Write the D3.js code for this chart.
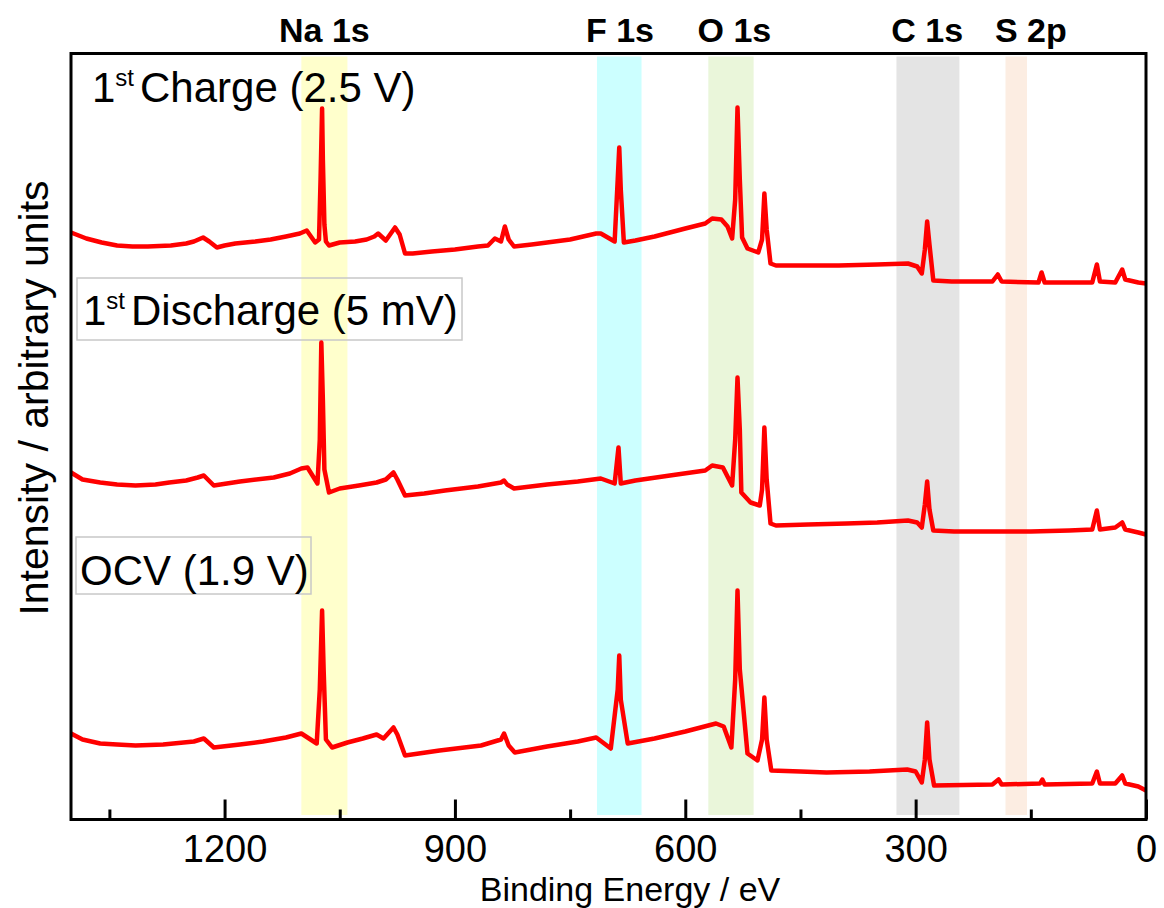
<!DOCTYPE html>
<html>
<head>
<meta charset="utf-8">
<script src="https://cdn.jsdelivr.net/npm/d3@7"></script>
<style>
  html, body { margin: 0; padding: 0; background: #fff; }
  svg { display: block; }
  text { font-family: Arial, "Liberation Sans", sans-serif; fill: #000; }
</style>
</head>
<body>
<svg id="chart" width="1164" height="908"></svg>
<script>
// XPS survey spectra: [binding energy (eV), intensity (a.u., stacked)]
const charge = [
  [1400, 587], [1390, 584], [1380, 581], [1360, 577], [1340, 574], [1320, 573],
  [1300, 573], [1270, 574], [1250, 576], [1240, 578], [1228, 582], [1220, 578],
  [1210, 572], [1200, 574], [1186, 576], [1160, 578], [1140, 580], [1120, 583],
  [1102, 586], [1093, 589], [1082, 577], [1077, 580], [1075, 640], [1073, 711],
  [1072, 660], [1070, 595], [1068, 578], [1064, 574], [1050, 577], [1030, 578],
  [1015, 580], [1005, 583], [1000, 586], [990, 579], [978, 592], [972, 585],
  [965, 566], [955, 566], [930, 568], [900, 570], [870, 573], [857, 574],
  [848, 581], [840, 578], [835, 593], [830, 580], [823, 573], [800, 575],
  [780, 577], [750, 580], [716, 586], [710, 586], [692, 578], [688, 640],
  [686, 672], [684, 630], [680, 577], [665, 579], [640, 583], [620, 587],
  [600, 591], [574, 596], [565, 601], [553, 600], [545, 593], [539, 581],
  [535, 620], [532, 712], [529, 640], [526, 582], [519, 571], [505, 567],
  [500, 580], [497, 626], [494, 590], [489, 556], [482, 554], [450, 554],
  [400, 554], [350, 555], [310, 556], [298, 553], [292, 546], [288, 570],
  [285, 598], [282, 575], [277, 539], [253, 538], [200, 538], [193, 545],
  [188, 538], [140, 537], [136, 547], [132, 537], [70, 537], [64, 555],
  [60, 538], [40, 537], [31, 550], [27, 540], [10, 537], [0, 536]
];

const discharge = [
  [1400, 347], [1385, 340], [1362, 337], [1340, 335], [1316, 334], [1290, 335],
  [1272, 337], [1250, 339], [1235, 342], [1227, 344], [1214, 334], [1180, 338],
  [1136, 342], [1115, 346], [1100, 351], [1092, 352], [1079, 336], [1076, 380],
  [1074, 477], [1072, 420], [1070, 350], [1064, 327], [1050, 331], [1025, 334],
  [1002, 337], [990, 340], [980, 347], [975, 340], [965, 324], [940, 326],
  [913, 329], [870, 333], [840, 337], [836, 339], [832, 335], [823, 331],
  [780, 335], [740, 338], [710, 341], [692, 336], [687, 372], [684, 336],
  [665, 339], [620, 344], [574, 349], [565, 354], [551, 352], [539, 334],
  [535, 380], [532, 442], [529, 390], [527, 327], [515, 317], [503, 314],
  [500, 330], [497, 392], [494, 340], [489, 296], [482, 294], [440, 295],
  [390, 296], [350, 297], [310, 299], [298, 297], [292, 292], [288, 315],
  [285, 338], [282, 310], [277, 289], [250, 288], [200, 288], [150, 288],
  [100, 289], [70, 290], [64, 309], [60, 290], [40, 292], [31, 297],
  [27, 290], [10, 287], [0, 285]
];

const ocv = [
  [1400, 86], [1385, 80], [1362, 76], [1340, 75], [1316, 74], [1280, 75],
  [1240, 78], [1227, 81], [1214, 72], [1180, 75], [1150, 78], [1120, 82],
  [1100, 86], [1080, 76], [1076, 130], [1073, 209], [1071, 150], [1068, 80],
  [1060, 72], [1040, 77], [1020, 81], [1002, 85], [993, 81], [980, 92],
  [975, 85], [965, 64], [920, 69], [866, 74], [840, 80], [836, 86],
  [830, 74], [822, 67], [780, 73], [740, 78], [716, 82], [697, 71],
  [688, 130], [686, 164], [684, 120], [675, 76], [640, 81], [600, 88],
  [560, 96], [550, 93], [540, 72], [535, 140], [532, 229], [529, 150],
  [519, 66], [506, 59], [500, 80], [497, 122], [494, 80], [488, 49],
  [450, 48], [416, 47], [360, 48], [311, 50], [300, 48], [292, 37],
  [288, 60], [285, 97], [282, 60], [276, 34], [200, 35], [192, 40],
  [188, 35], [138, 36], [135, 40], [132, 35], [70, 36], [64, 48],
  [60, 36], [40, 36], [31, 44], [27, 36], [10, 33], [0, 29]
];

// Highlighted core-level regions [high eV, low eV]
const regionNames  = ["Na 1s", "F 1s", "O 1s", "C 1s", "S 2p"];
const regionRanges = [[1100, 1040], [715, 657], [570, 511], [325, 243], [183, 155]];
const regionLabelE = [1070, 685, 536, 285, 150];
const regionColors = ["#ffffcc", "#ccffff", "#eaf6da", "#e4e4e4", "#fcede2"];

// Spectrum labels
const sampleMain  = ["1", "1", "OCV (1.9 V)"];
const sampleSup   = ["st", "st", ""];
const sampleTail  = ["Charge (2.5 V)", "Discharge (5 mV)", ""];
const sampleBoxed = [false, true, true];

const majorTicks = [1200, 900, 600, 300, 0];
const minorTicks = [1350, 1050, 750, 450, 150];

const margin = { left: 71, right: 1146, top: 53.5, bottom: 819.5 };

const svg = d3.select("#chart");
const x = d3.scaleLinear().domain([1400, 0]).range([margin.left, margin.right]);
const y = d3.scaleLinear().domain([0, 766]).range([margin.bottom, margin.top]);

// Shaded regions
svg.append("g").selectAll("rect")
  .data(regionRanges)
  .join("rect")
  .attr("x", d => x(d[0]))
  .attr("width", d => x(d[1]) - x(d[0]))
  .attr("y", margin.top + 3)
  .attr("height", margin.bottom - margin.top - 7.5)
  .attr("fill", (d, i) => regionColors[i]);

// Region titles above the frame
svg.append("g").selectAll("text")
  .data(regionNames)
  .join("text")
  .attr("x", (d, i) => x(regionLabelE[i]))
  .attr("y", 42)
  .attr("text-anchor", "middle")
  .style("font-size", "34px")
  .style("font-weight", "bold")
  .text(d => d);

// Spectrum labels
const labelPos = [[92, 102], [83, 325], [80, 585]];
const boxes = [null, [77, 278, 385, 62], [76, 537, 235, 57]];
labelPos.forEach((p, i) => {
  if (sampleBoxed[i]) {
    const b = boxes[i];
    svg.append("rect")
      .attr("x", b[0]).attr("y", b[1]).attr("width", b[2]).attr("height", b[3])
      .attr("fill", "none").attr("stroke", "#c8c8c8").attr("stroke-width", 1.5);
  }
  const t = svg.append("text")
    .attr("x", p[0]).attr("y", p[1])
    .style("font-size", "42px");
  t.append("tspan").text(sampleMain[i]);
  if (sampleSup[i]) {
    t.append("tspan").attr("dy", -16).style("font-size", "24px").text(sampleSup[i]);
    t.append("tspan").attr("dy", 16).attr("dx", 6).text(sampleTail[i]);
  }
});

// Spectra
const line = d3.line().x(d => x(d[0])).y(d => y(d[1]));
svg.append("g").selectAll("path")
  .data([charge, discharge, ocv])
  .join("path")
  .attr("d", line)
  .attr("fill", "none")
  .attr("stroke", "#ff0000")
  .attr("stroke-width", 4.5)
  .attr("stroke-linejoin", "round");

// Frame
svg.append("rect")
  .attr("x", margin.left).attr("y", margin.top)
  .attr("width", margin.right - margin.left)
  .attr("height", margin.bottom - margin.top)
  .attr("fill", "none").attr("stroke", "#000").attr("stroke-width", 3);

// Bottom axis: inward ticks
const axisMajor = d3.axisBottom(x).tickValues(majorTicks).tickSizeInner(-20).tickSizeOuter(0)
  .tickFormat(d3.format("d"));
const gMajor = svg.append("g").attr("transform", `translate(0,${margin.bottom})`).call(axisMajor);
gMajor.select(".domain").remove();
gMajor.selectAll(".tick line").attr("stroke", "#000").attr("stroke-width", 3);
gMajor.selectAll(".tick text")
  .attr("y", 42).attr("dy", 0)
  .style("font-size", "38px")
  .style("font-family", "Arial, 'Liberation Sans', sans-serif")
  .attr("fill", "#000");

const axisMinor = d3.axisBottom(x).tickValues(minorTicks).tickSizeInner(-10).tickSizeOuter(0)
  .tickFormat("");
const gMinor = svg.append("g").attr("transform", `translate(0,${margin.bottom})`).call(axisMinor);
gMinor.select(".domain").remove();
gMinor.selectAll(".tick line").attr("stroke", "#000").attr("stroke-width", 3);

// Axis titles
svg.append("text")
  .attr("x", 630).attr("y", 901)
  .attr("text-anchor", "middle")
  .style("font-size", "34px")
  .text("Binding Energy / eV");

svg.append("text")
  .attr("transform", "translate(48,398) rotate(-90)")
  .attr("text-anchor", "middle")
  .style("font-size", "41px")
  .text("Intensity / arbitrary units");
</script>
</body>
</html>
